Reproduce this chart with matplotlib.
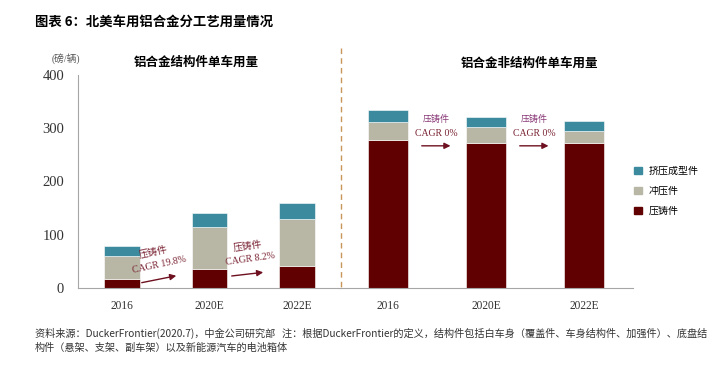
import matplotlib
matplotlib.use("Agg")
import matplotlib.pyplot as plt
from matplotlib.patches import Patch
from matplotlib.lines import Line2D

# data (lb per vehicle)
years = ["2016", "2020E", "2022E"]
struct_die = [17, 35, 41]        # 压铸件
struct_stamp = [43, 79, 88]      # 冲压件
struct_extr = [19, 26, 31]       # 挤压成型件
nonstruct_die = [277, 273, 273]
nonstruct_stamp = [35, 29, 21]
nonstruct_extr = [22, 20, 19]
left_cagr = ["CAGR 19.8%", "CAGR 8.2%"]
right_cagr = ["CAGR 0%", "CAGR 0%"]

c_die = "#600000"
c_stamp = "#B8B7A6"
c_extr = "#3B8A9E"
cjk = "Noto Sans CJK SC"
serif = ["Liberation Serif", cjk]

W, H = 724, 367
fig = plt.figure(figsize=(W / 100, H / 100), dpi=100)

def box(x0, x1, y_top, y_bot):
    return [x0 / W, 1 - y_bot / H, (x1 - x0) / W, (y_bot - y_top) / H]

axL = fig.add_axes(box(78, 341, 75, 288))
axR = fig.add_axes(box(339, 633, 75, 288))

def draw(ax, die, stamp, extr, width):
    x = range(len(years))
    ax.bar(x, die, width, color=c_die, edgecolor="white", linewidth=0.4)
    ax.bar(x, stamp, width, bottom=die, color=c_stamp, edgecolor="white", linewidth=0.4)
    bot = [a + b for a, b in zip(die, stamp)]
    ax.bar(x, extr, width, bottom=bot, color=c_extr, edgecolor="white", linewidth=0.4)
    ax.set_xlim(-0.5, 2.5)
    ax.set_ylim(0, 400)
    ax.set_xticks(list(x))
    ax.set_xticklabels(years, family=serif, fontsize=8.3, color="#333333")
    ax.tick_params(axis="x", length=0, pad=8.5)
    for s in ["top", "right"]:
        ax.spines[s].set_visible(False)
    ax.spines["bottom"].set_color("#A6A6A6")
    ax.spines["left"].set_color("#A6A6A6")

draw(axL, struct_die, struct_stamp, struct_extr, 0.41)
draw(axR, nonstruct_die, nonstruct_stamp, nonstruct_extr, 0.41)

axL.set_yticks([0, 100, 200, 300, 400])
axL.set_yticklabels(["0", "100", "200", "300", "400"], family=serif, fontsize=10.5, color="#333333")
axL.tick_params(axis="y", length=0, pad=10)
axR.spines["left"].set_visible(False)
axR.set_yticks([])

# arrows / cagr notes
ac = "#6E1020"
tc = "#7A2333"
arrow = dict(arrowstyle="-|>", color=ac, lw=1.0, mutation_scale=9)
axL.annotate("", xy=(0.652, 24), xytext=(0.196, 9), arrowprops=arrow)
axL.text(0.36, 68, "压铸件", family=cjk, fontsize=7, color=tc, rotation=12, ha="center", va="center")
axL.text(0.43, 43, left_cagr[0], family=serif, fontsize=7, color=tc, rotation=12, ha="center", va="center")
axL.annotate("", xy=(1.644, 30), xytext=(1.222, 22), arrowprops=arrow)
axL.text(1.43, 80, "压铸件", family=cjk, fontsize=7, color=tc, rotation=8, ha="center", va="center")
axL.text(1.47, 54, left_cagr[1], family=serif, fontsize=7, color=tc, rotation=8, ha="center", va="center")

for i in range(2):
    x0 = 0.316 + i
    axR.annotate("", xy=(x0 + 0.35, 267), xytext=(x0, 267), arrowprops=arrow)
    axR.text(x0 + 0.175, 317, "压铸件", family=cjk, fontsize=6.5, color="#8A3A78", ha="center", va="center")
    axR.text(x0 + 0.175, 291, right_cagr[i], family=serif, fontsize=7, color=tc, ha="center", va="center")

# dashed separator
fig.add_artist(Line2D([341 / W, 341 / W], [1 - 48 / H, 1 - 290 / H], color="#C8965A",
                      lw=1, linestyle=(0, (4, 3))))

# texts
fig.text(35 / W, 1 - 22 / H, "图表 6：北美车用铝合金分工艺用量情况", family=cjk, fontweight="bold",
         fontsize=9.6, va="center", ha="left")
fig.text(66 / W, 1 - 59 / H, "(磅/辆)", family=serif, fontsize=7, color="#555555", ha="center", va="center")
fig.text(196 / W, 1 - 62 / H, "铝合金结构件单车用量", family=cjk, fontweight="bold", fontsize=9,
         ha="center", va="center")
fig.text(530 / W, 1 - 63 / H, "铝合金非结构件单车用量", family=cjk, fontweight="bold", fontsize=9,
         ha="center", va="center")

note1 = ("资料来源：DuckerFrontier(2020.7)，中金公司研究部   注：根据DuckerFrontier的定义，"
         "结构件包括白车身（覆盖件、车身结构件、加强件）、底盘结")
note2 = "构件（悬架、支架、副车架）以及新能源汽车的电池箱体"
fig.text(35 / W, 1 - 333 / H, note1, family=cjk, fontsize=7.3, color="#333333", va="center", ha="left")
fig.text(35 / W, 1 - 348 / H, note2, family=cjk, fontsize=7.3, color="#333333", va="center", ha="left")

# legend
handles = [Patch(color=c_extr), Patch(color=c_stamp), Patch(color=c_die)]
labels = ["挤压成型件", "冲压件", "压铸件"]
fig.legend(handles, labels, loc="center left", bbox_to_anchor=(634 / W, 1 - 191 / H),
           frameon=False, prop={"family": cjk, "size": 7.2}, handlelength=0.75, handleheight=0.75,
           handletextpad=0.7, labelspacing=1.0, borderpad=0, borderaxespad=0)

fig.savefig("out.png", dpi=100)
